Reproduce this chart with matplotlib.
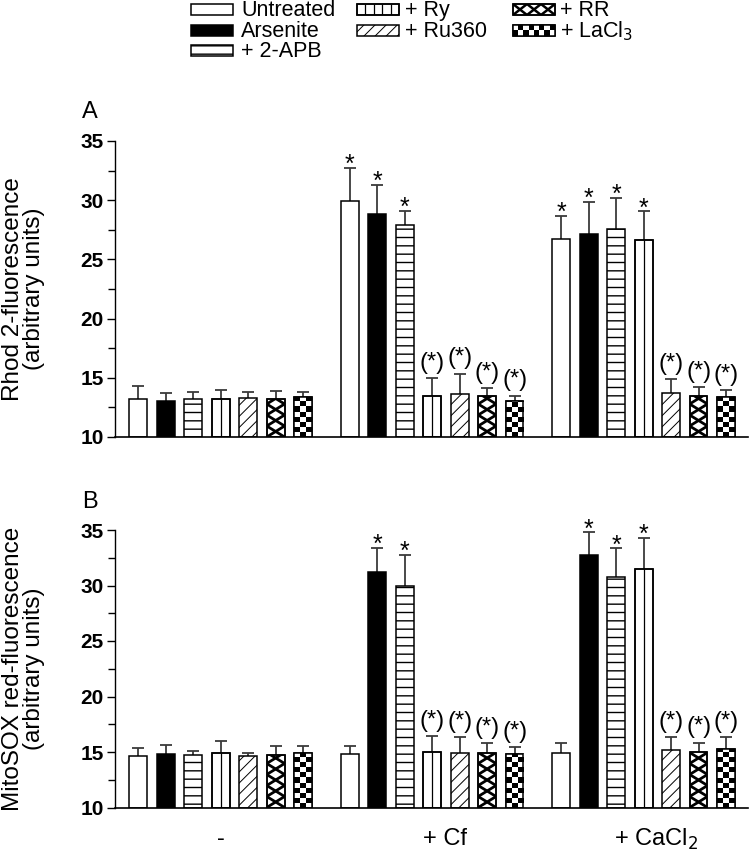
import numpy as np
import matplotlib
matplotlib.use("Agg")
import matplotlib.pyplot as plt
from matplotlib.patches import Rectangle
from matplotlib.collections import LineCollection
from matplotlib.ticker import MultipleLocator

plt.rcParams['font.family'] = ['Liberation Sans', 'DejaVu Sans']

# ---- data ----
treatments = ["Untreated", "Arsenite", "+ 2-APB", "+ Ry", "+ Ru360", "+ RR", "+ LaCl$_3$"]
groups = ["-", "+ Cf", "+ CaCl$_2$"]

rhod_mean = [[13.2, 13.0, 13.2, 13.25, 13.3, 13.2, 13.4],
             [29.9, 28.8, 27.9, 13.45, 13.6, 13.45, 13.0],
             [26.7, 27.15, 27.6, 26.6, 13.7, 13.45, 13.4]]
rhod_err = [[1.1, 0.7, 0.6, 0.7, 0.5, 0.65, 0.4],
            [2.85, 2.5, 1.2, 1.5, 1.75, 0.65, 0.5],
            [2.0, 2.7, 2.6, 2.45, 1.2, 0.8, 0.55]]
rhod_sig = [["", "", "", "", "", "", ""],
            ["*", "*", "*", "(*)", "(*)", "(*)", "(*)"],
            ["*", "*", "*", "*", "(*)", "(*)", "(*)"]]

mito_mean = [[14.63, 14.8, 14.7, 14.95, 14.63, 14.72, 14.87],
             [14.78, 31.2, 29.93, 15.0, 14.92, 14.87, 14.78],
             [14.87, 32.78, 30.8, 31.45, 15.14, 15.0, 15.23]]
mito_err = [[0.7, 0.87, 0.42, 1.05, 0.3, 0.84, 0.66],
            [0.78, 2.17, 2.85, 1.44, 1.45, 0.9, 0.69],
            [0.9, 2.0, 2.55, 2.86, 1.17, 0.85, 1.08]]
mito_sig = [["", "", "", "", "", "", ""],
            ["", "*", "*", "(*)", "(*)", "(*)", "(*)"],
            ["", "*", "*", "*", "(*)", "(*)", "(*)"]]

# bar appearance per treatment ("vlines", "cross", "checker" are drawn by hand)
styles = [dict(fc="white", hatch=None),
          dict(fc="black", hatch=None),
          dict(fc="white", hatch="--"),
          dict(fc="white", hatch="vlines"),
          dict(fc="white", hatch="///"),
          dict(fc="white", hatch="cross"),
          dict(fc="white", hatch="checker")]

group_offset = 7.7
label_shift = [0.0, 0.45, 0.45]
bar_w = 0.65
base = 10


def checker(ax, x0, y0, w, h, cw, ch, clip, z):
    ncol = int(np.ceil(w / cw))
    nrow = int(np.ceil(abs(h) / ch))
    arr = (np.add.outer(np.arange(nrow), np.arange(ncol)) % 2).astype(float)
    ext = (x0, x0 + ncol * cw, y0, y0 + nrow * ch * np.sign(h))
    im = ax.imshow(arr, cmap="gray_r", vmin=0, vmax=1, extent=ext,
                   origin="lower", interpolation="nearest", aspect="auto",
                   zorder=z)
    im.set_clip_path(clip)


def vlines(ax, x0, y0, w, h, step, clip, z):
    xs = x0 + step * np.arange(1, int(round(w / step)))
    segs = [[(x, y0), (x, y0 + h)] for x in xs]
    lc = LineCollection(segs, colors="black", linewidths=0.9, zorder=z)
    ax.add_collection(lc, autolim=False)
    lc.set_clip_path(clip)


def cross(ax, x0, y0, w, h, p, vertical, clip, z, lw=2.0):
    segs = []
    if vertical:
        for k in range(-1, int(np.ceil(abs(h) / p)) + 2):
            yk = y0 + p / 2 + k * p
            segs.append([(x0, yk - p / 2), (x0 + w, yk + p / 2)])
            segs.append([(x0, yk + p / 2), (x0 + w, yk - p / 2)])
    else:
        for k in range(-1, int(np.ceil(w / p)) + 2):
            xk = x0 + p / 2 + k * p
            segs.append([(xk - p / 2, y0), (xk + p / 2, y0 + h)])
            segs.append([(xk - p / 2, y0 + h), (xk + p / 2, y0)])
    lc = LineCollection(segs, colors="black", linewidths=lw, zorder=z)
    ax.add_collection(lc, autolim=False)
    lc.set_clip_path(clip)


def draw_panel(ax, means, errs, sigs, ylabel, letter, px_unit):
    for g in range(len(groups)):
        x = np.arange(len(treatments)) + g * group_offset
        m = np.array(means[g])
        e = np.array(errs[g])
        ax.errorbar(x, m, yerr=e, fmt="none", ecolor="#3a3a3a",
                    elinewidth=1.3, capsize=4.2, capthick=1.3, zorder=1)
        for i, st in enumerate(styles):
            h = st["hatch"]
            mpl_hatch = h if h in ("--", "///") else None
            b = ax.bar(x[i], m[i] - base, bottom=base, width=bar_w,
                       color=st["fc"], edgecolor="black", linewidth=1.1,
                       hatch=mpl_hatch, zorder=2)[0]
            if h == "///" and hasattr(b, "set_hatch_linewidth"):
                b.set_hatch_linewidth(0.7)
            x0 = x[i] - bar_w / 2
            if h == "checker":
                checker(ax, x0, base, bar_w, m[i] - base,
                        bar_w / 3, 5.0 / px_unit, b, 2.5)
            elif h == "vlines":
                vlines(ax, x0, base, bar_w, m[i] - base, bar_w / 2, b, 2.5)
            elif h == "cross":
                cross(ax, x0, base, bar_w, m[i] - base, 11.0 / px_unit,
                      True, b, 2.5)
            if h in ("checker", "vlines", "cross"):
                ax.bar(x[i], m[i] - base, bottom=base, width=bar_w,
                       color="none", edgecolor="black", linewidth=1.1,
                       zorder=3)
            s = sigs[g][i]
            if s == "*":
                ax.annotate(s, (x[i], m[i] + e[i]), xytext=(0, -3),
                            textcoords="offset points", ha="center",
                            va="baseline", fontsize=18, zorder=4)
            elif s:
                ax.annotate(s, (x[i], m[i] + e[i]), xytext=(0, 3),
                            textcoords="offset points", ha="center",
                            va="bottom", fontsize=17, zorder=4)
    ax.set_xlim(-0.85, 2 * group_offset + 6 + 0.8)
    ax.set_ylim(10, 35)
    ax.yaxis.set_major_locator(MultipleLocator(5))
    ax.yaxis.set_minor_locator(MultipleLocator(2.5))
    ax.tick_params(axis="y", which="major", length=6, width=1,
                   labelsize=15, pad=2)
    ax.tick_params(axis="y", which="minor", length=5, width=1)
    for t in ax.get_yticklabels():
        t.set_fontweight("bold")
    ax.set_xticks([])
    ax.spines["top"].set_visible(False)
    ax.spines["right"].set_visible(False)
    ax.spines["left"].set_linewidth(1)
    ax.spines["bottom"].set_linewidth(1.2)
    ax.set_ylabel(ylabel, fontsize=17.5, linespacing=0.95)
    ax.yaxis.set_label_coords(-0.11, 0.5)
    ax.text(-0.04, 1.06, letter, transform=ax.transAxes, fontsize=17,
            ha="center", va="bottom")


fig = plt.figure(figsize=(7.5, 8.56), dpi=100)
W, H = 750.0, 856.0
axA = fig.add_axes([115 / W, 1 - 437 / H, 633 / W, 296 / H])
axB = fig.add_axes([115 / W, 1 - 807.5 / H, 633 / W, 277.5 / H])

draw_panel(axA, rhod_mean, rhod_err, rhod_sig,
           "Rhod 2-fluorescence\n(arbitrary units)", "A", 296 / 25)
draw_panel(axB, mito_mean, mito_err, mito_sig,
           "MitoSOX red-fluorescence\n(arbitrary units)", "B", 277.5 / 25)

for g, name in enumerate(groups):
    axB.text(g * group_offset + 3 + label_shift[g], -0.115, name,
             fontsize=17, ha="center", va="center",
             transform=axB.get_xaxis_transform())

# ---- legend, laid out in figure pixels ----
lax = fig.add_axes([0, 0, 1, 1], zorder=10)
lax.set_xlim(0, W)
lax.set_ylim(H, 0)
lax.axis("off")
col_patch_x = [191, 357, 513]
col_text_x = [241, 405, 560]
row_y = [9.5, 30.5, 50.5]
layout = [(0, 0), (0, 1), (0, 2), (1, 0), (1, 1), (2, 0), (2, 1)]
pw, ph = 42, 11
for (c, r), st, name in zip(layout, styles, treatments):
    x0 = col_patch_x[c]
    y0 = row_y[r] - ph / 2
    h = st["hatch"]
    mpl_hatch = h if h in ("--", "///") else None
    rect = Rectangle((x0, y0), pw, ph, facecolor=st["fc"], edgecolor="black",
                     linewidth=1.1, hatch=mpl_hatch)
    if h == "///" and hasattr(rect, "set_hatch_linewidth"):
        rect.set_hatch_linewidth(0.7)
    lax.add_patch(rect)
    if h == "checker":
        checker(lax, x0, y0, pw, ph, 5.25, 5.5, rect, 3)
    elif h == "vlines":
        vlines(lax, x0, y0, pw, ph, 8.4, rect, 3)
    elif h == "cross":
        cross(lax, x0, y0, pw, ph, 14, False, rect, 3, lw=1.8)
    if h in ("checker", "vlines", "cross"):
        lax.add_patch(Rectangle((x0, y0), pw, ph, facecolor="none",
                                edgecolor="black", linewidth=1.1, zorder=4))
    lax.text(col_text_x[c], row_y[r] + 1, name, fontsize=15.5,
             ha="left", va="center")

fig.savefig("out.png", dpi=100)
